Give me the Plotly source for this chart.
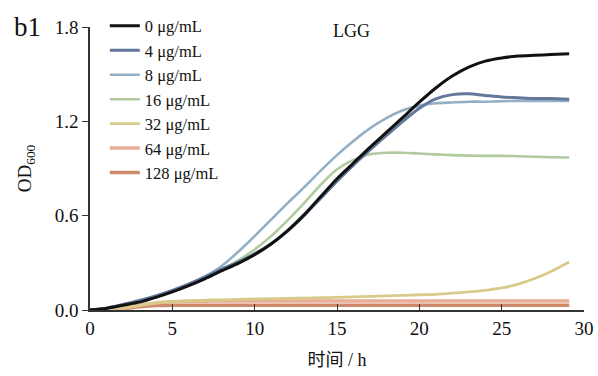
import plotly.graph_objects as go

time_h = [0, 1, 2, 3, 4, 5, 6, 7, 8, 9, 10, 11, 12, 13, 14, 15, 16, 17, 18, 19,
          20, 21, 22, 23, 24, 25, 26, 27, 28, 29.1]

od_0 = [0, 0.01, 0.03, 0.05, 0.08, 0.115, 0.155, 0.20, 0.25, 0.297, 0.352, 0.42, 0.505, 0.605,
        0.72, 0.835, 0.935, 1.035, 1.13, 1.225, 1.322, 1.412, 1.488, 1.545, 1.583, 1.603, 1.615,
        1.62, 1.625, 1.63]
od_4 = [0, 0.012, 0.035, 0.06, 0.09, 0.125, 0.165, 0.21, 0.26, 0.305, 0.358, 0.422, 0.502, 0.60,
        0.71, 0.82, 0.922, 1.018, 1.11, 1.2, 1.283, 1.343, 1.37, 1.375, 1.365, 1.355, 1.35,
        1.345, 1.345, 1.34]
od_8 = [0, 0.012, 0.035, 0.06, 0.09, 0.125, 0.165, 0.215, 0.28, 0.37, 0.47, 0.575, 0.68, 0.78,
        0.885, 0.985, 1.075, 1.155, 1.22, 1.27, 1.30, 1.315, 1.32, 1.325, 1.325, 1.328, 1.33,
        1.33, 1.33, 1.33]
od_16 = [0, 0.01, 0.03, 0.055, 0.085, 0.12, 0.16, 0.205, 0.255, 0.315, 0.385, 0.47, 0.57, 0.68,
         0.795, 0.895, 0.955, 0.99, 1.0, 1.0, 0.995, 0.99, 0.985, 0.982, 0.98, 0.98, 0.978,
         0.975, 0.972, 0.97]
od_32 = [0, 0.005, 0.015, 0.03, 0.045, 0.052, 0.058, 0.062, 0.065, 0.068, 0.07, 0.072, 0.074,
         0.076, 0.078, 0.08, 0.083, 0.087, 0.09, 0.093, 0.097, 0.10, 0.107, 0.115, 0.125,
         0.14, 0.165, 0.20, 0.245, 0.305]
od_64 = [0, 0.003, 0.01, 0.03, 0.045, 0.052, 0.055, 0.056, 0.057, 0.057, 0.057, 0.057, 0.057,
         0.057, 0.057, 0.057, 0.057, 0.057, 0.057, 0.057, 0.057, 0.057, 0.057, 0.057, 0.057,
         0.057, 0.057, 0.057, 0.057, 0.057]
od_128 = [0, 0.002, 0.008, 0.02, 0.028, 0.03, 0.03, 0.03, 0.03, 0.03, 0.03, 0.03, 0.03, 0.03,
          0.03, 0.03, 0.03, 0.03, 0.03, 0.03, 0.03, 0.03, 0.03, 0.03, 0.03, 0.03, 0.03, 0.03,
          0.03, 0.03]

series_names = ["0 μg/mL", "4 μg/mL", "8 μg/mL", "16 μg/mL", "32 μg/mL", "64 μg/mL", "128 μg/mL"]
series_values = [od_0, od_4, od_8, od_16, od_32, od_64, od_128]
colors = ["#111111", "#62779a", "#93afc6", "#b0cb9f", "#d8cb8a", "#e9ad95", "#cf8a6c"]
widths = [3, 3, 2.6, 2.6, 2.8, 3.5, 3.5]

x_ticks = [0, 5, 10, 15, 20, 25, 30]
y_ticks = [0.0, 0.6, 1.2, 1.8]

serif = "Times New Roman, Liberation Serif, DejaVu Serif, serif"
cjk = "Times New Roman, Liberation Serif, Noto Sans CJK SC, serif"

fig = go.Figure()
# draw in reverse so black is on top, keep legend order
for name, vals, col, w in reversed(list(zip(series_names, series_values, colors, widths))):
    fig.add_trace(go.Scatter(x=time_h, y=vals, mode="lines", name=name,
                             line=dict(color=col, width=w, shape="spline", smoothing=0.6)))

fig.update_layout(
    width=598, height=376,
    margin=dict(l=90, r=14, t=27, b=66, autoexpand=False),
    paper_bgcolor="white", plot_bgcolor="white",
    font=dict(family=serif, size=18, color="#111111"),
    showlegend=True,
    legend=dict(x=0.03, y=1.065, xanchor="left", yanchor="top", traceorder="reversed",
                bgcolor="rgba(0,0,0,0)", font=dict(family=serif, size=16.5),
                itemwidth=30, tracegroupgap=0, maxheight=340),
    xaxis=dict(range=[0, 30], tickvals=x_ticks, ticktext=[str(v) for v in x_ticks],
               showgrid=False, zeroline=False, showline=True, linecolor="#333333", linewidth=1.5,
               ticks="inside", ticklen=6, tickwidth=1.2, tickcolor="#333333",
               tickfont=dict(family=serif, size=19),
               title=dict(text="时间 / h", font=dict(family=cjk, size=18), standoff=16)),
    yaxis=dict(range=[0, 1.8], tickvals=y_ticks, ticktext=["0.0", "0.6", "1.2", "1.8"],
               showgrid=False, zeroline=False, showline=True, linecolor="#333333", linewidth=1.5,
               ticks="outside", ticklen=6, tickwidth=1.2, tickcolor="#333333",
               tickfont=dict(family=serif, size=19),
               title=dict(text="OD<sub>600</sub>", font=dict(family=serif, size=19), standoff=18)),
    annotations=[
        dict(text="b1", xref="paper", yref="paper", x=-0.158, y=1.0, xanchor="left", yanchor="middle",
             showarrow=False, font=dict(family=serif, size=27)),
        dict(text="LGG", xref="x", yref="y", x=15.9, y=1.775, showarrow=False,
             font=dict(family=serif, size=18)),
    ],
)

fig.write_html("out.html", config={"displayModeBar": False},
               post_script="document.body.style.margin='0';")
